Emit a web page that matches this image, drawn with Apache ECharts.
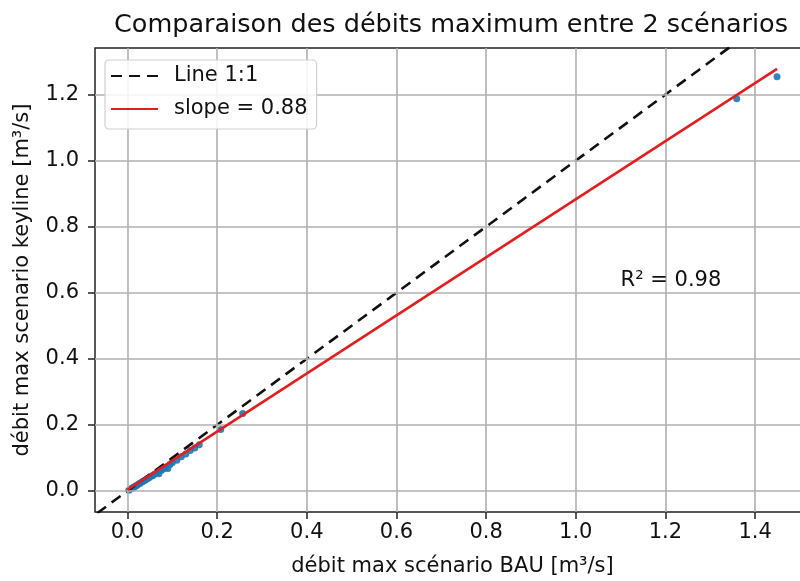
<!DOCTYPE html>
<html>
<head>
<meta charset="utf-8">
<script src="https://cdn.jsdelivr.net/npm/echarts@6/dist/echarts.min.js"></script>
<style>html,body{margin:0;padding:0;background:#fff;}#c{width:800px;height:581px;}</style>
</head>
<body>
<div id="c"></div>
<script>
// ---- data ----
const titleText = 'Comparaison des débits maximum entre 2 scénarios';
const xName = 'débit max scénario BAU [m³/s]';
const yName = 'débit max scenario keyline [m³/s]';
const xTicks = [0.0, 0.2, 0.4, 0.6, 0.8, 1.0, 1.2, 1.4];
const yTicks = [0.0, 0.2, 0.4, 0.6, 0.8, 1.0, 1.2];
const xRange = [-0.0725, 1.5225];
const yRange = [-0.064, 1.341];
const bauValues = [0.003,0.006,0.009,0.012,0.015,0.018,0.021,0.025,0.028,0.032,0.036,0.040,0.044,0.048,0.052,0.056,0.060,0.065,0.070,0.075,0.080,0.085,0.090,0.095,0.100,0.110,0.120,0.130,0.140,0.150,0.160,0.208,0.257,1.359,1.449];
const keylineValues = [0.002,0.005,0.007,0.010,0.012,0.015,0.017,0.021,0.023,0.027,0.030,0.033,0.037,0.040,0.044,0.046,0.050,0.054,0.052,0.062,0.066,0.071,0.068,0.080,0.086,0.093,0.103,0.112,0.122,0.130,0.140,0.186,0.234,1.187,1.254];
const oneToOneX = [-0.1, 1.6];
const oneToOneY = [-0.1, 1.6];
const fitX = [0.0, 1.449];
const fitY = [0.004, 1.278];
const legendLabels = ['Line 1:1', 'slope = 0.88'];
const r2Label = 'R² = 0.98';
const r2Pos = [1.1, 0.637];

// ---- chart ----
const FONT = 'DejaVu Sans';
const chart = echarts.init(document.getElementById('c'), null, {renderer: 'canvas'});
const pts = bauValues.map((x, i) => [x, keylineValues[i]]);
const fmt = v => v.toFixed(1);

const option = {
  animation: false,
  backgroundColor: '#fff',
  textStyle: {fontFamily: FONT},
  grid: {left: 95, top: 48, width: 715, height: 464, show: true, borderColor: '#222', borderWidth: 1.5,
         backgroundColor: 'transparent', containLabel: false, outerBoundsMode: 'none'},
  graphic: [{
    type: 'text', x: 451, y: 25,
    style: {text: titleText, font: '25.5px "DejaVu Sans"', fill: '#111', align: 'center', verticalAlign: 'middle'}
  }],
  legend: {
    data: legendLabels,
    orient: 'vertical', left: 105, top: 60,
    itemWidth: 47, itemHeight: 14, itemGap: 11,
    padding: [5, 9, 9, 5],
    backgroundColor: 'rgba(255,255,255,0.85)', borderColor: '#d0d0d0', borderWidth: 1.2, borderRadius: 4,
    itemStyle: {opacity: 0, borderWidth: 0},
    textStyle: {fontFamily: FONT, fontSize: 21, color: '#111', lineHeight: 22, padding: [0, 0, 0, 11]},
    z: 10
  },
  xAxis: {
    type: 'value', min: xRange[0], max: xRange[1],
    name: xName, nameLocation: 'middle', nameGap: 44,
    nameTextStyle: {fontFamily: FONT, fontSize: 21, color: '#111'},
    axisLine: {show: false, onZero: false},
    axisTick: {show: true, length: 7, customValues: xTicks, lineStyle: {color: '#222', width: 1.5}},
    axisLabel: {customValues: xTicks, formatter: fmt, fontFamily: FONT, fontSize: 21, color: '#111', margin: 10},
    splitLine: {show: false}
  },
  yAxis: {
    type: 'value', min: yRange[0], max: yRange[1],
    name: yName, nameLocation: 'middle', nameGap: 62,
    nameTextStyle: {fontFamily: FONT, fontSize: 21, color: '#111'},
    axisLine: {show: false, onZero: false},
    axisTick: {show: true, length: 7, customValues: yTicks, lineStyle: {color: '#222', width: 1.5}},
    axisLabel: {customValues: yTicks, formatter: fmt, fontFamily: FONT, fontSize: 21, color: '#111', margin: 16},
    splitLine: {show: false}
  },
  series: [
    {
      name: 'grid', type: 'line', data: [], z: 1, silent: true,
      markLine: {
        silent: true, symbol: 'none', label: {show: false},
        lineStyle: {color: '#b0b0b0', width: 1.6, type: 'solid'},
        data: xTicks.map(v => ({xAxis: v})).concat(yTicks.map(v => ({yAxis: v})))
      }
    },
    {
      name: 'points', type: 'scatter', data: pts, symbolSize: 7, z: 3,
      itemStyle: {color: '#1f77b4', opacity: 0.9}
    },
    {
      name: legendLabels[0], type: 'line', symbol: 'none', z: 4, clip: true,
      data: oneToOneX.map((x, i) => [x, oneToOneY[i]]),
      lineStyle: {color: '#111', width: 2.6, type: [11, 7]}, itemStyle: {color: '#111'}
    },
    {
      name: legendLabels[1], type: 'line', symbol: 'none', z: 5,
      data: fitX.map((x, i) => [x, fitY[i]]),
      lineStyle: {color: '#e41e1e', width: 2.6}, itemStyle: {color: '#e41e1e'}
    },
    {
      name: 'r2', type: 'scatter', symbolSize: 0, silent: true, z: 6,
      data: [r2Pos],
      itemStyle: {opacity: 1},
      label: {show: true, formatter: r2Label, position: [0, 0], align: 'left', verticalAlign: 'middle',
              fontFamily: FONT, fontSize: 21, color: '#111', opacity: 1}
    }
  ]
};
chart.setOption(option);
</script>
</body>
</html>
